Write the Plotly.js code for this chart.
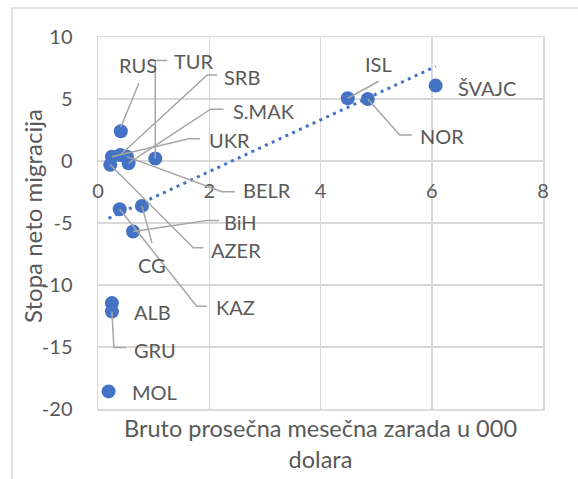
<!DOCTYPE html>
<html><head><meta charset="utf-8">
<script src="https://cdn.plot.ly/plotly-3.0.1.min.js"></script>
<style>html,body{margin:0;padding:0;background:#fff}#chart{width:578px;height:479px}</style>
</head><body><div id="chart"></div>
<script>
// ---- data ----
const countries = ["RUS","TUR","SRB","S.MAK","UKR","BELR","AZER","BiH","CG","KAZ","ALB","GRU","MOL","ISL","NOR","ŠVAJC"];
const wages     = [0.41, 1.03, 0.40, 0.55, 0.25, 0.52, 0.22, 0.63, 0.79, 0.39, 0.25, 0.25, 0.19, 4.49, 4.85, 6.07];
const migration = [2.4, 0.2, 0.48, -0.18, 0.35, 0.35, -0.31, -5.69, -3.62, -3.89, -11.46, -12.14, -18.58, 5.06, 5.0, 6.08];
const xTicks = [0, 2, 4, 6, 8];
const yTicks = [-20, -15, -10, -5, 0, 5, 10];
const xTickText = xTicks.map(String);
const yTickText = yTicks.map(String);
const xTitle = "Bruto prosečna mesečna zarada u 000<br>dolara";
const yTitle = "Stopa neto migracija";

// ---- label placement (pixels relative to the point, y up) ----
const labelPlacement = {
  "RUS":   {shift:[17,66],   leader:[[0,4],[18,48]]},
  "TUR":   {shift:[39,98],   leader:[[0,0],[0,98],[12,98]]},
  "SRB":   {shift:[122,78],  leader:[[0,0],[87,80],[97,80]]},
  "S.MAK": {shift:[135,52],  leader:[[0,0],[82,54],[95,54]]},
  "UKR":   {shift:[118,17],  leader:[[0,0],[77,18],[88,18]]},
  "BELR":  {shift:[140,-33], leader:[[0,0],[95,-35],[108,-35]]},
  "AZER":  {shift:[126,-85], leader:[[0,0],[83,-83],[93,-83]]},
  "BiH":   {shift:[107,10],  leader:[[0,0],[74,11],[86,11]]},
  "CG":    {shift:[10,-59],  leader:[[0,0],[10,-37]]},
  "KAZ":   {shift:[116,-98], leader:[[0,0],[77,-97],[87,-97]]},
  "ALB":   {shift:[41,-9],   leader:null},
  "GRU":   {shift:[43,-38],  leader:[[0,0],[2,-36],[14,-36]]},
  "MOL":   {shift:[46,-1],   leader:null},
  "ISL":   {shift:[31,34],   leader:[[0,0],[31,17]]},
  "NOR":   {shift:[74,-37],  leader:[[0,0],[32,-36],[44,-36]]},
  "ŠVAJC": {shift:[51,-2],   leader:null}
};

// ---- linear trend (least squares) ----
const n = wages.length;
const mx = wages.reduce((a,b)=>a+b,0)/n;
const my = migration.reduce((a,b)=>a+b,0)/n;
let sxy = 0, sxx = 0;
for (let i=0;i<n;i++){ sxy += (wages[i]-mx)*(migration[i]-my); sxx += (wages[i]-mx)**2; }
const slope = sxy/sxx, intercept = my - slope*mx;
const xmin = Math.min(...wages), xmax = Math.max(...wages);
const trendX = [xmin, xmax];
const trendY = trendX.map(v => intercept + slope*v);

const blue = "#4472C4", grid = "#d9d9d9", txt = "#595959", lead = "#a6a6a6";
const FONT = "Lato, 'Open Sans', sans-serif";

const traces = [
  {x: trendX, y: trendY, xaxis: "x2", yaxis: "y", mode: "lines",
   line: {color: blue, width: 3, dash: "3px,4.5px"}, hoverinfo: "skip", showlegend: false},
  {x: wages, y: migration, text: countries, mode: "markers", type: "scatter",
   marker: {color: blue, size: 14}, showlegend: false}
];

const annotations = [];
const shapes = [];
countries.forEach((c, i) => {
  const p = labelPlacement[c];
  annotations.push({x: wages[i], y: migration[i], xref: "x", yref: "y", text: c, showarrow: false,
    xshift: p.shift[0], yshift: p.shift[1], xanchor: "center", yanchor: "middle",
    font: {family: FONT, size: 20, color: txt}});
  if (p.leader) {
    const path = p.leader.map((pt, k) => (k ? "L" : "M") + pt[0] + "," + pt[1]).join(" ");
    shapes.push({type: "path", xref: "x", yref: "y", xsizemode: "pixel", ysizemode: "pixel",
      xanchor: wages[i], yanchor: migration[i], path: path, layer: "above",
      line: {color: lead, width: 1.5}});
  }
});

// y-axis title
annotations.push({xref: "paper", yref: "paper", x: -0.146, y: 0.519, text: yTitle, textangle: -90,
  showarrow: false, xanchor: "center", yanchor: "middle",
  font: {family: FONT, size: 24, color: txt}});

// outer chart border
shapes.push({type: "rect", xref: "paper", yref: "paper", x0: -0.1933, x1: 1.2, y0: -0.3, y1: 1.078,
  line: {color: grid, width: 1.5}, layer: "below"});

const yRange = [-20, 10];
const zeroPos = (0 - yRange[0]) / (yRange[1] - yRange[0]);

const layout = {
  width: 578, height: 479,
  margin: {l: 98, r: 35, t: 37, b: 70},
  paper_bgcolor: "#fff", plot_bgcolor: "#fff",
  font: {family: FONT, size: 20, color: txt},
  showlegend: false,
  xaxis: {range: [0, 8], tickvals: xTicks, ticktext: xTickText, anchor: "free", position: zeroPos,
    showgrid: true, gridcolor: grid, gridwidth: 1.5, zeroline: false, showline: false,
    ticks: "", ticklabelstandoff: 16, tickfont: {family: FONT, size: 20, color: txt}, fixedrange: true},
  xaxis2: {range: [0, 8], overlaying: "x", anchor: "y", side: "bottom",
    showgrid: false, zeroline: false, showticklabels: false, ticks: "",
    showline: true, mirror: true, linecolor: grid, linewidth: 1.5,
    title: {text: xTitle, standoff: 11, font: {family: FONT, size: 23.5, color: txt}}},
  yaxis: {range: yRange, tickvals: yTicks, ticktext: yTickText, showgrid: true, gridcolor: grid, gridwidth: 1.5,
    zeroline: false, showline: true, mirror: true, linecolor: grid, linewidth: 1.5,
    ticks: "", ticklabelstandoff: 20, tickfont: {family: FONT, size: 20, color: txt}},
  annotations: annotations,
  shapes: shapes
};

Plotly.newPlot("chart", traces, layout, {displayModeBar: false, staticPlot: true});
</script>
</body></html>
